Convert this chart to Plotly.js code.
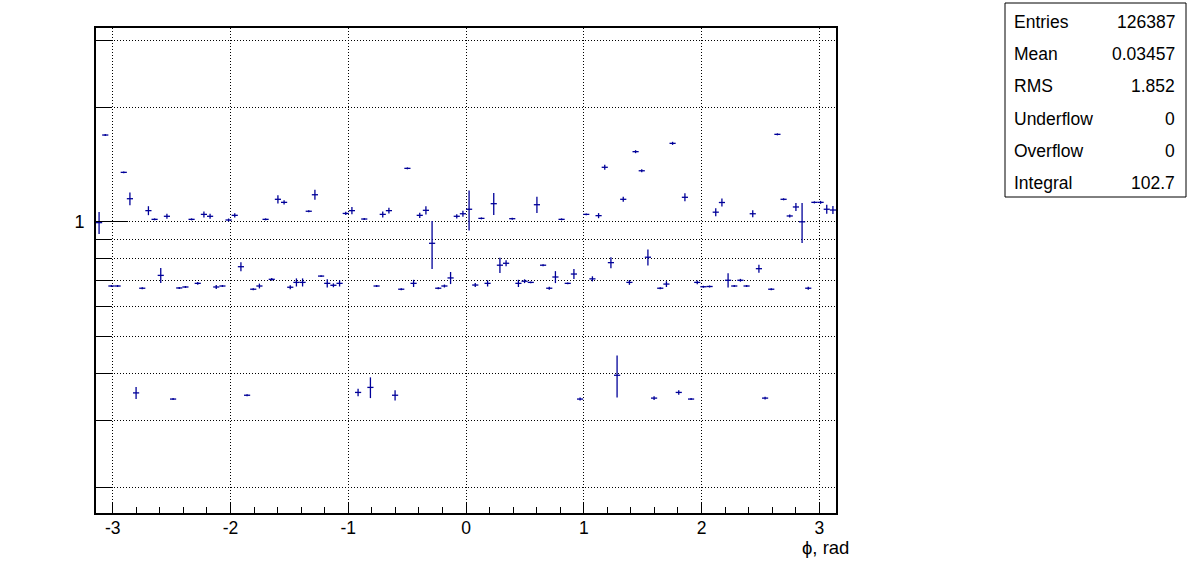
<!DOCTYPE html>
<html>
<head>
<meta charset="utf-8">
<script src="https://cdn.plot.ly/plotly-3.0.1.min.js"></script>
<style>html,body{margin:0;padding:0;background:#fff;}#plot{width:1196px;height:572px;}</style>
</head>
<body>
<div id="plot"></div>
<script>
// Histogram: 120 bins in phi from -pi to pi
const nBins = 120;
const phiMin = -Math.PI;
const phiMax = Math.PI;

const binContents = [
  0.995, 1.691, 0.678, 0.678, 1.349, 1.150, 0.355, 0.669, 1.070, 1.015,
  0.723, 1.034, 0.342, 0.670, 0.674, 1.015, 0.689, 1.046, 1.034, 0.674,
  0.678, 1.011, 1.040, 0.762, 0.350, 0.665, 0.678, 1.015, 0.706, 1.146,
  1.125, 0.673, 0.693, 0.693, 1.066, 1.178, 0.720, 0.689, 0.681, 0.689,
  1.052, 1.070, 0.356, 1.017, 0.367, 0.678, 1.046, 1.070, 0.350, 0.665,
  1.382, 0.689, 1.040, 1.072, 0.878, 0.669, 0.678, 0.712, 1.034, 1.050,
  1.079, 0.682, 1.021, 0.689, 1.116, 0.769, 0.778, 1.019, 0.689, 0.698,
  0.693, 1.109, 0.769, 0.669, 0.716, 1.015, 0.689, 0.729, 0.342, 1.046,
  0.708, 1.038, 1.391, 0.781, 0.395, 1.146, 0.693, 1.529, 1.362, 0.807,
  0.344, 0.669, 0.686, 1.608, 0.356, 1.160, 0.342, 0.693, 0.675, 0.676,
  1.060, 1.124, 0.702, 0.678, 0.702, 0.678, 1.050, 0.753, 0.344, 0.665,
  1.698, 1.146, 1.036, 1.094, 1.000, 0.669, 1.125, 1.125, 1.079, 1.074
];

const binErrors = [
  0.066, 0.010, 0.004, 0.004, 0.008, 0.045, 0.013, 0.004, 0.029, 0.006,
  0.033, 0.016, 0.002, 0.004, 0.004, 0.006, 0.006, 0.019, 0.016, 0.008,
  0.004, 0.009, 0.013, 0.021, 0.002, 0.004, 0.010, 0.006, 0.006, 0.028,
  0.014, 0.008, 0.017, 0.017, 0.006, 0.036, 0.004, 0.017, 0.008, 0.013,
  0.010, 0.023, 0.008, 0.006, 0.023, 0.004, 0.019, 0.019, 0.011, 0.004,
  0.008, 0.015, 0.016, 0.026, 0.127, 0.004, 0.006, 0.026, 0.013, 0.019,
  0.130, 0.008, 0.006, 0.013, 0.074, 0.035, 0.014, 0.006, 0.015, 0.008,
  0.004, 0.054, 0.005, 0.006, 0.026, 0.006, 0.004, 0.022, 0.003, 0.006,
  0.011, 0.016, 0.021, 0.026, 0.050, 0.017, 0.010, 0.014, 0.012, 0.039,
  0.004, 0.004, 0.012, 0.015, 0.005, 0.028, 0.002, 0.008, 0.004, 0.004,
  0.026, 0.027, 0.030, 0.004, 0.006, 0.004, 0.022, 0.018, 0.003, 0.004,
  0.010, 0.007, 0.009, 0.026, 0.121, 0.006, 0.007, 0.010, 0.029, 0.026
];

const xTickVals = [-3, -2, -1, 0, 1, 2, 3];
const xTickText = ["-3", "-2", "-1", "0", "1", "2", "3"];
const yMajorVals = [1];
const yMajorText = ["1"];
const yMinorVals = [0.2, 0.3, 0.4, 0.5, 0.6, 0.7, 0.8, 0.9, 2, 3];

const statNames = ["Entries", "Mean", "RMS", "Underflow", "Overflow", "Integral"];
const statValues = ["126387", "0.03457", "1.852", "0", "0", "102.7"];

const xTitle = "\u03D5, rad";

// bin centres from the histogram binning
const binWidth = (phiMax - phiMin) / nBins;
const binCenters = binContents.map((_, i) => phiMin + (i + 0.5) * binWidth);

const lineColor = "#000099";
const FONT = "Liberation Sans, Arial, Helvetica, sans-serif";

// plot-area geometry in pixels
const W = 1196, H = 572;
const L = 96, R = 836, T = 28, B = 513;
const pw = R - L, ph = B - T;
const px2paperX = p => (p - L) / pw;
const px2paperY = p => (B - p) / ph;

const yRange = [-0.7655, 0.5095];

const trace = {
  type: "scatter",
  mode: "markers",
  x: binCenters,
  y: binContents,
  marker: { size: 1, color: "rgba(0,0,0,0)" },
  error_x: { type: "constant", value: binWidth / 2, width: 0, thickness: 1.3, color: lineColor },
  error_y: { type: "data", array: binErrors, symmetric: true, width: 0, thickness: 1.3, color: lineColor },
  hoverinfo: "x+y",
  showlegend: false
};

const annotations = [];
const shapes = [];

// stats box
const boxL = 1005, boxR = 1186, boxT = 3, boxB = 197;
shapes.push({
  type: "rect", xref: "paper", yref: "paper",
  x0: px2paperX(boxL), x1: px2paperX(boxR),
  y0: px2paperY(boxB), y1: px2paperY(boxT),
  line: { color: "black", width: 1 }, fillcolor: "white", layer: "above"
});
const rowY = [22, 54, 86, 119, 151, 183];
statNames.forEach((n, i) => {
  annotations.push({
    xref: "paper", yref: "paper", x: px2paperX(1012), y: px2paperY(rowY[i]),
    xanchor: "left", yanchor: "middle", text: n, showarrow: false,
    font: { family: FONT, size: 17.5, color: "black" }
  });
  annotations.push({
    xref: "paper", yref: "paper", x: px2paperX(1177), y: px2paperY(rowY[i]),
    xanchor: "right", yanchor: "middle", text: statValues[i], showarrow: false,
    font: { family: FONT, size: 17.5, color: "black" }
  });
});

// x-axis title, right aligned under the axis end
annotations.push({
  xref: "paper", yref: "paper", x: px2paperX(851), y: px2paperY(547),
  xanchor: "right", yanchor: "middle", text: xTitle, showarrow: false,
  font: { family: FONT, size: 18.5, color: "black" }
});

const layout = {
  width: W, height: H,
  margin: { l: L, r: W - R, t: T, b: H - B, pad: 0 },
  paper_bgcolor: "white", plot_bgcolor: "white",
  showlegend: false,
  font: { family: FONT, size: 17, color: "black" },
  xaxis: {
    range: [phiMin, phiMax],
    tickvals: xTickVals, ticktext: xTickText,
    ticks: "inside", ticklen: 11, tickwidth: 1, tickcolor: "black",
    ticklabelstandoff: -2,
    showgrid: true, gridcolor: "black", gridwidth: 1, griddash: "1px,2px",
    zeroline: false,
    showline: true, linecolor: "black", linewidth: 2, mirror: true,
    tickfont: { family: FONT, size: 17.5, color: "black" },
    minor: { dtick: 0.2, tick0: 0, ticks: "inside", ticklen: 6, tickwidth: 1, tickcolor: "black", showgrid: false }
  },
  yaxis: {
    type: "log",
    range: yRange,
    tickvals: yMajorVals, ticktext: yMajorText,
    ticks: "inside", ticklen: 32, tickwidth: 1, tickcolor: "black",
    ticklabelstandoff: 6,
    showgrid: true, gridcolor: "black", gridwidth: 1, griddash: "1px,2px",
    zeroline: false,
    showline: true, linecolor: "black", linewidth: 2, mirror: true,
    tickfont: { family: FONT, size: 18, color: "black" },
    minor: { tickvals: yMinorVals, ticks: "inside", ticklen: 16, tickwidth: 1, tickcolor: "black",
             showgrid: true, gridcolor: "black", gridwidth: 1, griddash: "1px,2px" }
  },
  shapes: shapes,
  annotations: annotations
};

Plotly.newPlot("plot", [trace], layout, { staticPlot: true, displayModeBar: false });
</script>
</body>
</html>
